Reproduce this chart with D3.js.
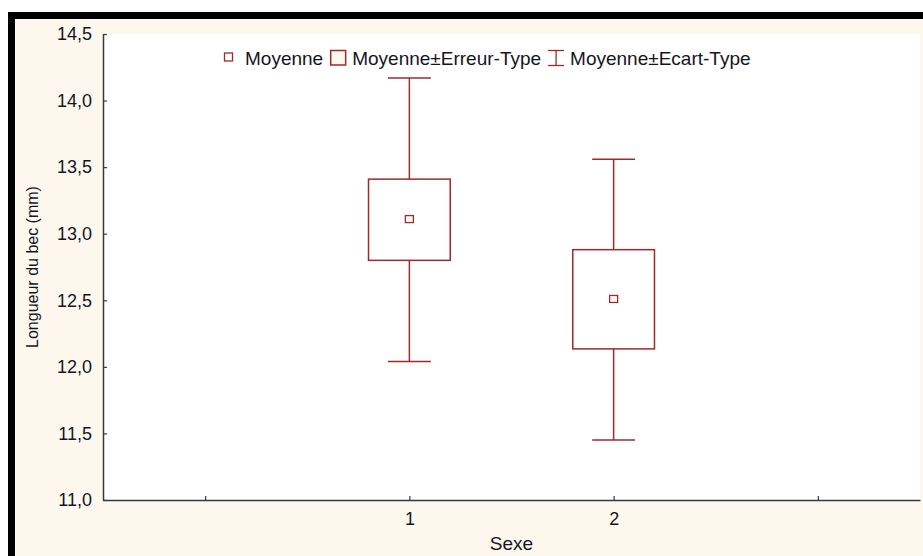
<!DOCTYPE html>
<html>
<head>
<meta charset="utf-8">
<script src="https://cdn.jsdelivr.net/npm/d3@7"></script>
<style>
  html, body { margin: 0; padding: 0; background: #ffffff; }
  svg { display: block; }
  text { font-family: "Liberation Sans", Arial, sans-serif; fill: #15151f; }
</style>
</head>
<body>
<svg id="chart" width="923" height="556"></svg>
<script>
// Beak length by sex: mean, mean ± standard error, mean ± standard deviation
const categories = [1, 2];
const means = [13.11, 12.51];
const seLow = [12.80, 12.135];
const seHigh = [13.41, 12.88];
const sdLow = [12.04, 11.45];
const sdHigh = [14.17, 13.56];
const yTicks = [11.0, 11.5, 12.0, 12.5, 13.0, 13.5, 14.0, 14.5];
const xTicks = [0, 1, 2, 3];
const xTickLabels = ["", "1", "2", ""];
const legendLabels = ["Moyenne", "Moyenne\u00b1Erreur-Type", "Moyenne\u00b1Ecart-Type"];

const W = 923, H = 556;
const plot = { left: 103, right: 920, top: 34, bottom: 500 };
const red = "#a3282c";
const cream = "#fdf8ee";

const svg = d3.select("#chart");

// frame: white margin, black border on top/left, cream panel
svg.append("rect").attr("x", 0).attr("y", 0).attr("width", W).attr("height", H).attr("fill", "#fff");
svg.append("rect").attr("x", 8).attr("y", 12).attr("width", W - 8).attr("height", H - 12).attr("fill", "#000");
svg.append("rect").attr("x", 15).attr("y", 19).attr("width", W - 15).attr("height", H - 19).attr("fill", cream);
svg.append("rect").attr("x", plot.left).attr("y", plot.top)
  .attr("width", plot.right - plot.left).attr("height", plot.bottom - plot.top).attr("fill", "#fff");

const x = d3.scaleLinear().domain([-0.5, 3.5]).range([plot.left, plot.right]);
const y = d3.scaleLinear().domain([11, 14.5]).range([plot.bottom, plot.top]);

// axes
const yAxis = d3.axisLeft(y).tickValues(yTicks).tickSizeInner(-4).tickSizeOuter(0).tickPadding(11)
  .tickFormat(d => d3.format(".1f")(d).replace(".", ","));
const gy = svg.append("g").attr("transform", `translate(${plot.left},0)`).call(yAxis);

const xAxis = d3.axisBottom(x).tickValues(xTicks).tickSizeInner(-4).tickSizeOuter(0).tickPadding(12)
  .tickFormat((d, i) => xTickLabels[i]);
const gx = svg.append("g").attr("transform", `translate(0,${plot.bottom})`).call(xAxis);

[gx, gy].forEach(g => {
  g.select(".domain").attr("stroke", "#3a3a3a").attr("stroke-width", 1.5);
  g.selectAll(".tick line").attr("stroke", "#3a3a3a").attr("stroke-width", 1.2);
  g.selectAll(".tick text").attr("font-size", 18).attr("fill", "#15151f")
    .attr("font-family", "\"Liberation Sans\", Arial, sans-serif");
});

// axis titles
svg.append("text").attr("x", (plot.left + plot.right) / 2).attr("y", 550)
  .attr("text-anchor", "middle").attr("font-size", 19).text("Sexe");
svg.append("text")
  .attr("transform", `translate(38,${(plot.top + plot.bottom) / 2}) rotate(-90)`)
  .attr("text-anchor", "middle").attr("font-size", 16).text("Longueur du bec (mm)");

// whiskers, boxes, mean markers
const boxHalf = 0.2, capHalf = 0.105;
const groups = svg.append("g").selectAll("g").data(categories).join("g");

groups.append("line")
  .attr("x1", d => x(d)).attr("x2", d => x(d))
  .attr("y1", (d, i) => y(sdHigh[i])).attr("y2", (d, i) => y(seHigh[i]))
  .attr("stroke", red).attr("stroke-width", 1.5);
groups.append("line")
  .attr("x1", d => x(d)).attr("x2", d => x(d))
  .attr("y1", (d, i) => y(seLow[i])).attr("y2", (d, i) => y(sdLow[i]))
  .attr("stroke", red).attr("stroke-width", 1.5);
groups.append("line")
  .attr("x1", d => x(d - capHalf)).attr("x2", d => x(d + capHalf))
  .attr("y1", (d, i) => y(sdHigh[i])).attr("y2", (d, i) => y(sdHigh[i]))
  .attr("stroke", red).attr("stroke-width", 1.5);
groups.append("line")
  .attr("x1", d => x(d - capHalf)).attr("x2", d => x(d + capHalf))
  .attr("y1", (d, i) => y(sdLow[i])).attr("y2", (d, i) => y(sdLow[i]))
  .attr("stroke", red).attr("stroke-width", 1.5);
groups.append("rect")
  .attr("x", d => x(d - boxHalf)).attr("width", d => x(d + boxHalf) - x(d - boxHalf))
  .attr("y", (d, i) => y(seHigh[i])).attr("height", (d, i) => y(seLow[i]) - y(seHigh[i]))
  .attr("fill", "#fff").attr("stroke", red).attr("stroke-width", 1.5);
groups.append("rect")
  .attr("x", d => x(d) - 4).attr("width", 8)
  .attr("y", (d, i) => y(means[i]) - 3.5).attr("height", 7)
  .attr("fill", "#fff").attr("stroke", red).attr("stroke-width", 1.3);

// legend, laid out left to right
const legend = svg.append("g");
let lx = 224;
const base = 65;
legendLabels.forEach((label, i) => {
  let iconW;
  if (i === 0) {
    legend.append("rect").attr("x", lx + 0.5).attr("y", 53).attr("width", 8).attr("height", 8)
      .attr("fill", "#fff").attr("stroke", red).attr("stroke-width", 1.3);
    iconW = 10;
  } else if (i === 1) {
    legend.append("rect").attr("x", lx + 0.5).attr("y", 50.5).attr("width", 15).attr("height", 14.5)
      .attr("fill", cream).attr("stroke", red).attr("stroke-width", 1.5);
    iconW = 16;
  } else {
    const cx = lx + 8;
    legend.append("line").attr("x1", cx - 8).attr("x2", cx + 8).attr("y1", 50.5).attr("y2", 50.5)
      .attr("stroke", red).attr("stroke-width", 1.3);
    legend.append("line").attr("x1", cx - 8).attr("x2", cx + 8).attr("y1", 65.5).attr("y2", 65.5)
      .attr("stroke", red).attr("stroke-width", 1.3);
    legend.append("line").attr("x1", cx).attr("x2", cx).attr("y1", 50.5).attr("y2", 65.5)
      .attr("stroke", red).attr("stroke-width", 1.3);
    iconW = 16;
  }
  const gap = i === 0 ? 11 : 6;
  const t = legend.append("text").attr("x", lx + iconW + gap).attr("y", base)
    .attr("font-size", 19).text(label);
  lx = lx + iconW + gap + t.node().getComputedTextLength() + 7;
});
</script>
</body>
</html>
